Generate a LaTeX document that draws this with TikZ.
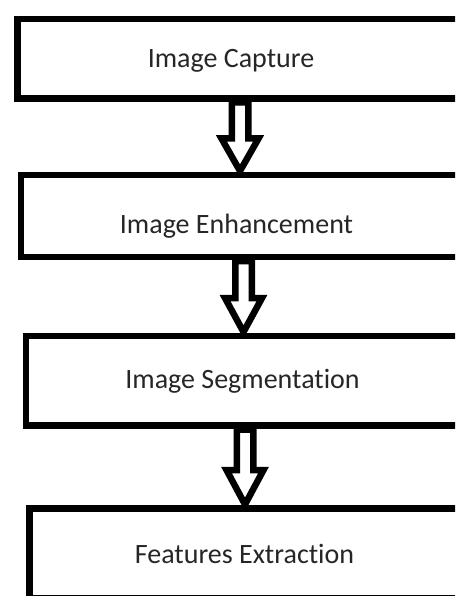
\documentclass[tikz,border=0pt]{standalone}
\usepackage{fontspec}
\setmainfont[Ligatures=NoCommon]{Carlito}
\definecolor{textgray}{HTML}{262626}
\newcommand\blockarr[3]{%
  \draw[harrow] ([xshift=-8.25pt,yshift=-4pt]#1) -- ([xshift=-8.25pt,yshift=#3]#2)
    -- ([xshift=-18.5pt,yshift=#3]#2) -- ([yshift=4pt]#2)
    -- ([xshift=18.5pt,yshift=#3]#2) -- ([xshift=8.25pt,yshift=#3]#2)
    -- ([xshift=8.25pt,yshift=-4pt]#1) -- cycle;}
\begin{document}
\begin{tikzpicture}[x=1pt,y=-1pt,
  box/.style={draw=black, line width=6.5pt, rectangle, inner sep=0pt, outer sep=0pt},
  lbl/.style={anchor=base, text=textgray, font=\fontsize{28}{32}\selectfont, inner sep=0pt},
  harrow/.style={draw=black, fill=white, line width=6.5pt, line join=miter}]
\fill[white] (0,0) rectangle (455,596);
\useasboundingbox (0,0) rectangle (455,596);
\clip (0,0) rectangle (455,596);
% boxes
\node[box, minimum width=462.5pt, minimum height=79.5pt] (b1) at (248.75,58.75) {};
\node[box, minimum width=459pt, minimum height=82pt] (b2) at (250.5,216) {};
\node[box, minimum width=454pt, minimum height=89.5pt] (b3) at (253,380.75) {};
\node[box, minimum width=450.5pt, minimum height=90pt] (b4) at (254.75,553.5) {};
% labels
\node[lbl] (t1) at (231,68) {Image Capture};
\node[lbl] (t2) at (236.5,233) {Image Enhancement};
\node[lbl] (t3) at (242.5,388) {Image Segmentation};
\node[lbl] (t4) at (244.5,563) {Features Extraction};
% arrow axes
\coordinate (c1) at (240,0);
\coordinate (c2) at (243.5,0);
\coordinate (c3) at (245,0);
\coordinate (a1t) at (b1.south -| c1);
\coordinate (a1b) at (b2.north -| c1);
\coordinate (a2t) at (b2.south -| c2);
\coordinate (a2b) at (b3.north -| c2);
\coordinate (a3t) at (b3.south -| c3);
\coordinate (a3b) at (b4.north -| c3);
\blockarr{a1t}{a1b}{36.5pt}
\blockarr{a2t}{a2b}{38pt}
\blockarr{a3t}{a3b}{38.5pt}
\end{tikzpicture}
\end{document}
